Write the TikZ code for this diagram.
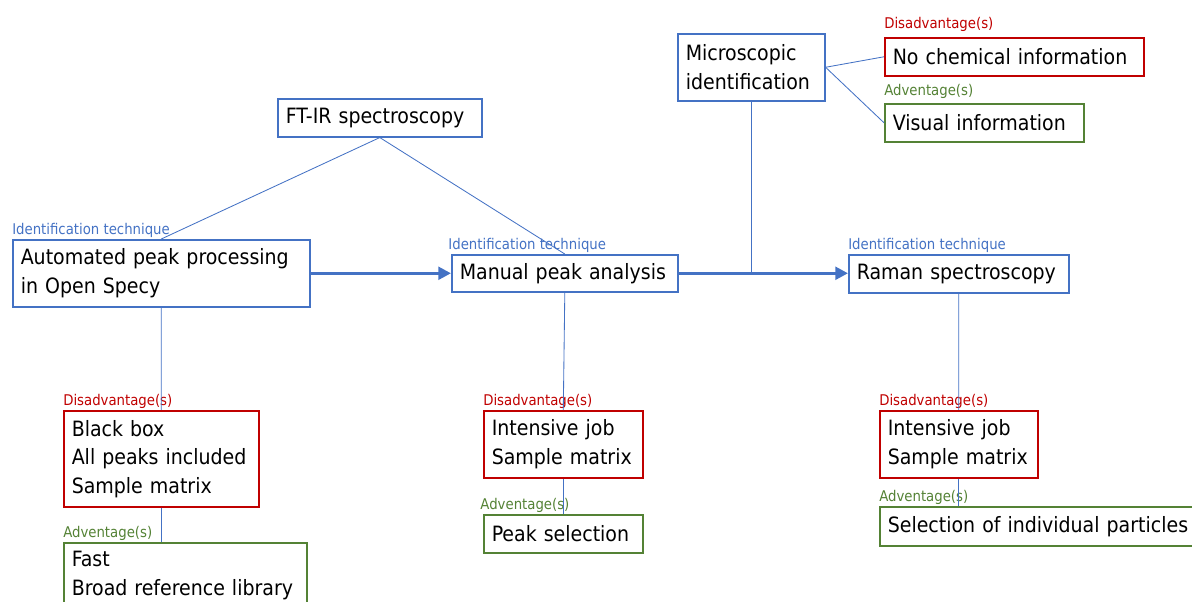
\documentclass[tikz,border=0pt]{standalone}
\usepackage{fontspec}
\setmainfont{DejaVu Sans Condensed}
\usepackage{xcolor}
\usetikzlibrary{arrows.meta}
\definecolor{techblue}{HTML}{4472C4}
\definecolor{badred}{HTML}{C00000}
\definecolor{goodgreen}{HTML}{548235}
\tikzset{
  box/.style     = { draw, line width=1.1pt, anchor=north west, align=left,
                     inner xsep=0.2cm, inner ysep=2pt,
                     font=\fontsize{15}{20.3}\selectfont,
                     execute at begin node={\hyphenpenalty=10000} },
  tech/.style    = { box, draw=techblue },
  bad/.style     = { box, draw=badred },
  good/.style    = { box, draw=goodgreen },
  tag/.style     = { anchor=south west, inner xsep=0pt, inner ysep=1pt,
                     font=\fontsize{10.5}{12}\selectfont },
  connect/.style = { techblue, line width=0.6pt },
  flow/.style    = { techblue, line width=2.2pt,
                     -{Triangle[length=9pt, width=9pt]} }
}

\begin{document}
\begin{tikzpicture}[x=0.025cm, y=-0.025cm]
  \useasboundingbox (0,0) rectangle (1192,602);
  % Draw all boxes
  \node[tech, text width=4.7cm, minimum height=0.95cm]   (ftir)   at (277,98)  {FT-IR spectroscopy};
  \node[tech, text width=3.275cm, minimum height=1.675cm] (micro) at (677,33)  {Microscopic\\identification};
  \node[bad,  text width=6.075cm, minimum height=0.95cm] (nochem) at (884,37)  {No chemical information};
  \node[good, text width=4.575cm, minimum height=0.95cm] (visual) at (884,103) {Visual information};
  \node[tech, text width=7.025cm, minimum height=1.675cm] (auto)  at (12,239)  {Automated peak processing\\in Open Specy};
  \node[tech, text width=5.25cm, minimum height=0.925cm] (manual) at (451,254) {Manual peak analysis};
  \node[tech, text width=5.1cm, minimum height=0.95cm]   (raman)  at (848,254) {Raman spectroscopy};
  \node[bad,  text width=4.475cm, minimum height=2.4cm]  (blackbox) at (63,410) {Black box\\All peaks included\\Sample matrix};
  \node[good, text width=5.675cm, inner ysep=6pt]        (fast)   at (63,542)  {Fast\\Broad reference library};
  \node[bad,  text width=3.575cm, minimum height=1.675cm] (manualbad) at (483,410) {Intensive job\\Sample matrix};
  \node[good, text width=3.575cm, minimum height=0.95cm] (manualgood) at (483,514) {Peak selection};
  \node[bad,  text width=3.55cm, minimum height=1.675cm] (ramanbad) at (879,410) {Intensive job\\Sample matrix};
  \node[good, text width=7.6cm, minimum height=0.975cm]  (ramangood) at (879,506) {Selection of individual particles};
  % Draw labels
  \node[tag, techblue]  (autotag)   at (auto.north west)       {Identification technique};
  \node[tag, techblue]  (manualtag) at ([xshift=-2]manual.north west) {Identification technique};
  \node[tag, techblue]  (ramantag)  at (raman.north west)      {Identification technique};
  \node[tag, badred]    (nochemtag) at ([yshift=3]nochem.north west) {Disadvantage(s)};
  \node[tag, goodgreen] (visualtag) at ([yshift=2]visual.north west) {Adventage(s)};
  \node[tag, badred]    (bbtag)     at (blackbox.north west)   {Disadvantage(s)};
  \node[tag, goodgreen] (fasttag)   at (fast.north west)       {Adventage(s)};
  \node[tag, badred]    (mbadtag)   at (manualbad.north west)  {Disadvantage(s)};
  \node[tag, goodgreen] (mgoodtag)  at ([xshift=-2]manualgood.north west) {Adventage(s)};
  \node[tag, badred]    (rbadtag)   at (ramanbad.north west)   {Disadvantage(s)};
  \node[tag, goodgreen] (rgoodtag)  at (ramangood.north west)  {Adventage(s)};
  % Draw connections
  \draw[connect] (ftir.south) -- (auto.north);
  \draw[connect] (ftir.south) -- (manual.north);
  \draw[connect] (micro.east) -- (nochem.west);
  \draw[connect] (micro.east) -- (visual.west);
  \draw[connect] (micro.south) -- (micro.south |- manual.east);
  \draw[connect] (auto.south) -- (blackbox.north);
  \draw[connect] (blackbox.south) -- (blackbox.south |- fast.north);
  \draw[connect] (manual.south) -- (manualbad.north);
  \draw[connect] (manualbad.south) -- (manualgood.north);
  \draw[connect] (raman.south) -- (ramanbad.north);
  \draw[connect] (ramanbad.south) -- (ramanbad.south |- ramangood.north);
  \draw[flow] (auto.east |- manual.east) -- (manual.west);
  \draw[flow] (manual.east) -- (manual.east -| raman.west);
\end{tikzpicture}
\end{document}
